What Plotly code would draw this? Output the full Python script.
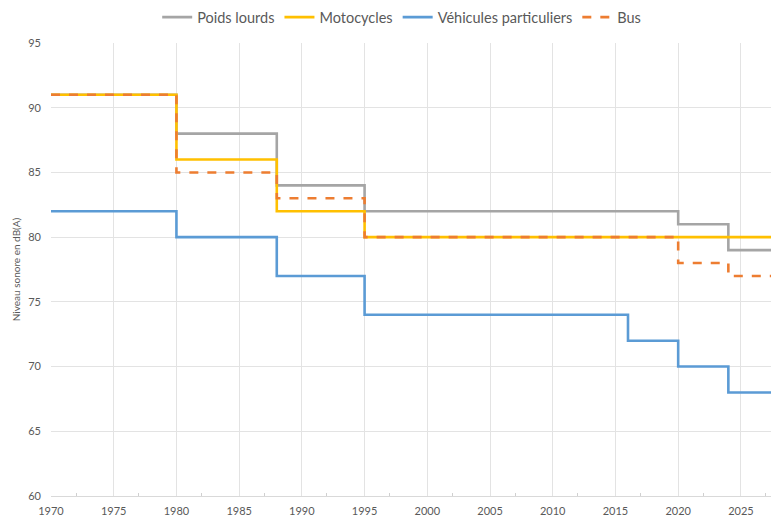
import plotly.graph_objects as go

years = [1970, 1980, 1988, 1995, 2016, 2020, 2024, 2030]
poids_lourds = [91, 88, 84, 82, 82, 81, 79, 79]
motocycles = [91, 86, 82, 80, 80, 80, 80, 80]
vehicules = [82, 80, 77, 74, 72, 70, 68, 68]
bus = [91, 85, 83, 80, 80, 78, 77, 77]

series = [
    ("Poids lourds", poids_lourds, "#A5A5A5", "solid"),
    ("Motocycles", motocycles, "#FFC000", "solid"),
    ("Véhicules particuliers", vehicules, "#5B9BD5", "solid"),
    ("Bus", bus, "#ED7D31", "dash"),
]

fig = go.Figure()
for name, vals, color, dash in series:
    fig.add_trace(go.Scatter(
        x=years, y=vals, name=name, mode="lines",
        line=dict(color=color, width=2.6, dash=dash, shape="hv"),
    ))

fig.update_layout(
    width=771, height=520,
    margin=dict(l=51, r=0, t=43, b=24, autoexpand=False),
    paper_bgcolor="white", plot_bgcolor="white",
    font=dict(family="Lato, sans-serif", size=11, color="#595959"),
    legend=dict(orientation="h", x=0.521, xanchor="center", xref="container",
                y=1.057, yanchor="middle", yref="paper",
                font=dict(size=14.5, color="#595959"),
                itemwidth=30, tracegroupgap=0),
    showlegend=True,
)
fig.update_xaxes(
    range=[1970, 2027.4], tickmode="linear", tick0=1970, dtick=5,
    automargin=False,
    showgrid=True, gridcolor="#E3E3E3", gridwidth=1,
    showline=True, linecolor="#D9D9D9", zeroline=False,
    ticks="", ticklabelstandoff=5, tickfont=dict(size=11, color="#595959"),
    minor=dict(ticks="inside", dtick=5, tick0=1972, ticklen=3, tickcolor="#D0D0D0", showgrid=False),
)
fig.update_yaxes(
    range=[60, 95], tickmode="linear", tick0=60, dtick=5,
    automargin=False,
    showgrid=True, gridcolor="#E3E3E3", gridwidth=1,
    showline=False, zeroline=False, ticks="",
    ticklabelstandoff=9,
    tickfont=dict(size=11, color="#595959"),
    title=dict(text="Niveau sonore en dB(A)", font=dict(size=10, color="#595959"), standoff=5),
)
fig.write_html(
    "out.html",
    config={"displayModeBar": False},
    post_script="document.body.style.margin='0';document.body.style.overflow='hidden';",
)
